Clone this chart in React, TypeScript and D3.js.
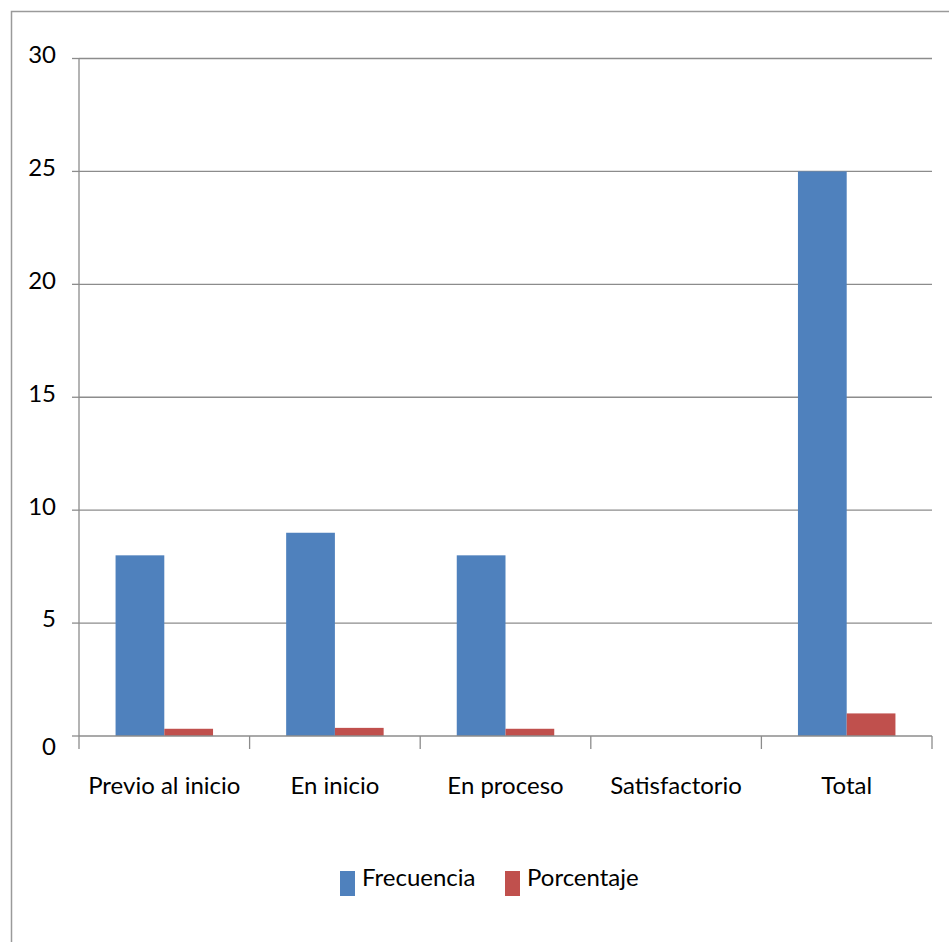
import React from "react";
import * as d3 from "d3";

const categories = ["Previo al inicio", "En inicio", "En proceso", "Satisfactorio", "Total"];
const seriesNames = ["Frecuencia", "Porcentaje"];
const frecuencia = [8, 9, 8, 0, 25];
const porcentaje = [0.32, 0.36, 0.32, 0, 1.0];
const yTicks = [0, 5, 10, 15, 20, 25, 30];
const colors = ["#4F81BD", "#C0504D"];

export default function App() {
  const W = 949, H = 942;
  const left = 79, right = 932, top = 58.5, bottom = 736;
  const x = d3.scaleBand<string>().domain(categories).range([left, right]).paddingInner(0).paddingOuter(0);
  const bw = x.bandwidth();
  const barW = bw / 3.5;
  const y = d3.scaleLinear().domain([0, 30]).range([bottom, top]);
  const series = [frecuencia, porcentaje];
  const font = "Lato, 'Open Sans', sans-serif";
  const fs = 24;
  const boundaries = categories.map((c) => x(c)!).concat([right]);

  return (
    <div style={{ position: "absolute", left: 0, top: 0 }}>
      <svg width={W} height={H} style={{ display: "block" }}>
        <rect x={0} y={0} width={W} height={H} fill="#fff" />
        <rect x={11.5} y={11.5} width={1200} height={1200} fill="none" stroke="#9a9a9a" strokeWidth={1.5} />
        {yTicks.map((t) => (
          <g key={t}>
            {t > 0 && (
              <line x1={left} x2={right} y1={y(t)} y2={y(t)} stroke="#8c8c8c" strokeWidth={1.3} />
            )}
            <line x1={72} x2={left} y1={y(t)} y2={y(t)} stroke="#8c8c8c" strokeWidth={1.3} />
            <text x={56} y={y(t) + (t === 0 ? 11 : -4)} dy="0.35em" textAnchor="end" fontFamily={font} fontSize={fs} fill="#000">
              {t}
            </text>
          </g>
        ))}
        {categories.map((c, i) =>
          series.map((s, j) => (
            <rect
              key={c + j}
              x={x(c)! + barW * 0.75 + j * barW}
              y={y(s[i])}
              width={barW}
              height={bottom - y(s[i])}
              fill={colors[j]}
            />
          ))
        )}
        <line x1={left} x2={left} y1={top} y2={bottom} stroke="#8c8c8c" strokeWidth={1.3} />
        <line x1={left} x2={right} y1={bottom} y2={bottom} stroke="#8c8c8c" strokeWidth={1.3} />
        {boundaries.map((b, i) => (
          <line key={i} x1={b} x2={b} y1={bottom} y2={749} stroke="#8c8c8c" strokeWidth={1.3} />
        ))}
        {categories.map((c) => (
          <text key={c} x={x(c)! + bw / 2} y={794} textAnchor="middle" fontFamily={font} fontSize={fs} fill="#000">
            {c}
          </text>
        ))}
        {seriesNames.map((n, j) => {
          const lx = j === 0 ? 340 : 505;
          return (
            <g key={n}>
              <rect x={lx} y={871} width={15} height={25} fill={colors[j]} />
              <text x={lx + 22} y={886} fontFamily={font} fontSize={fs} fill="#000">
                {n}
              </text>
            </g>
          );
        })}
      </svg>
    </div>
  );
}
